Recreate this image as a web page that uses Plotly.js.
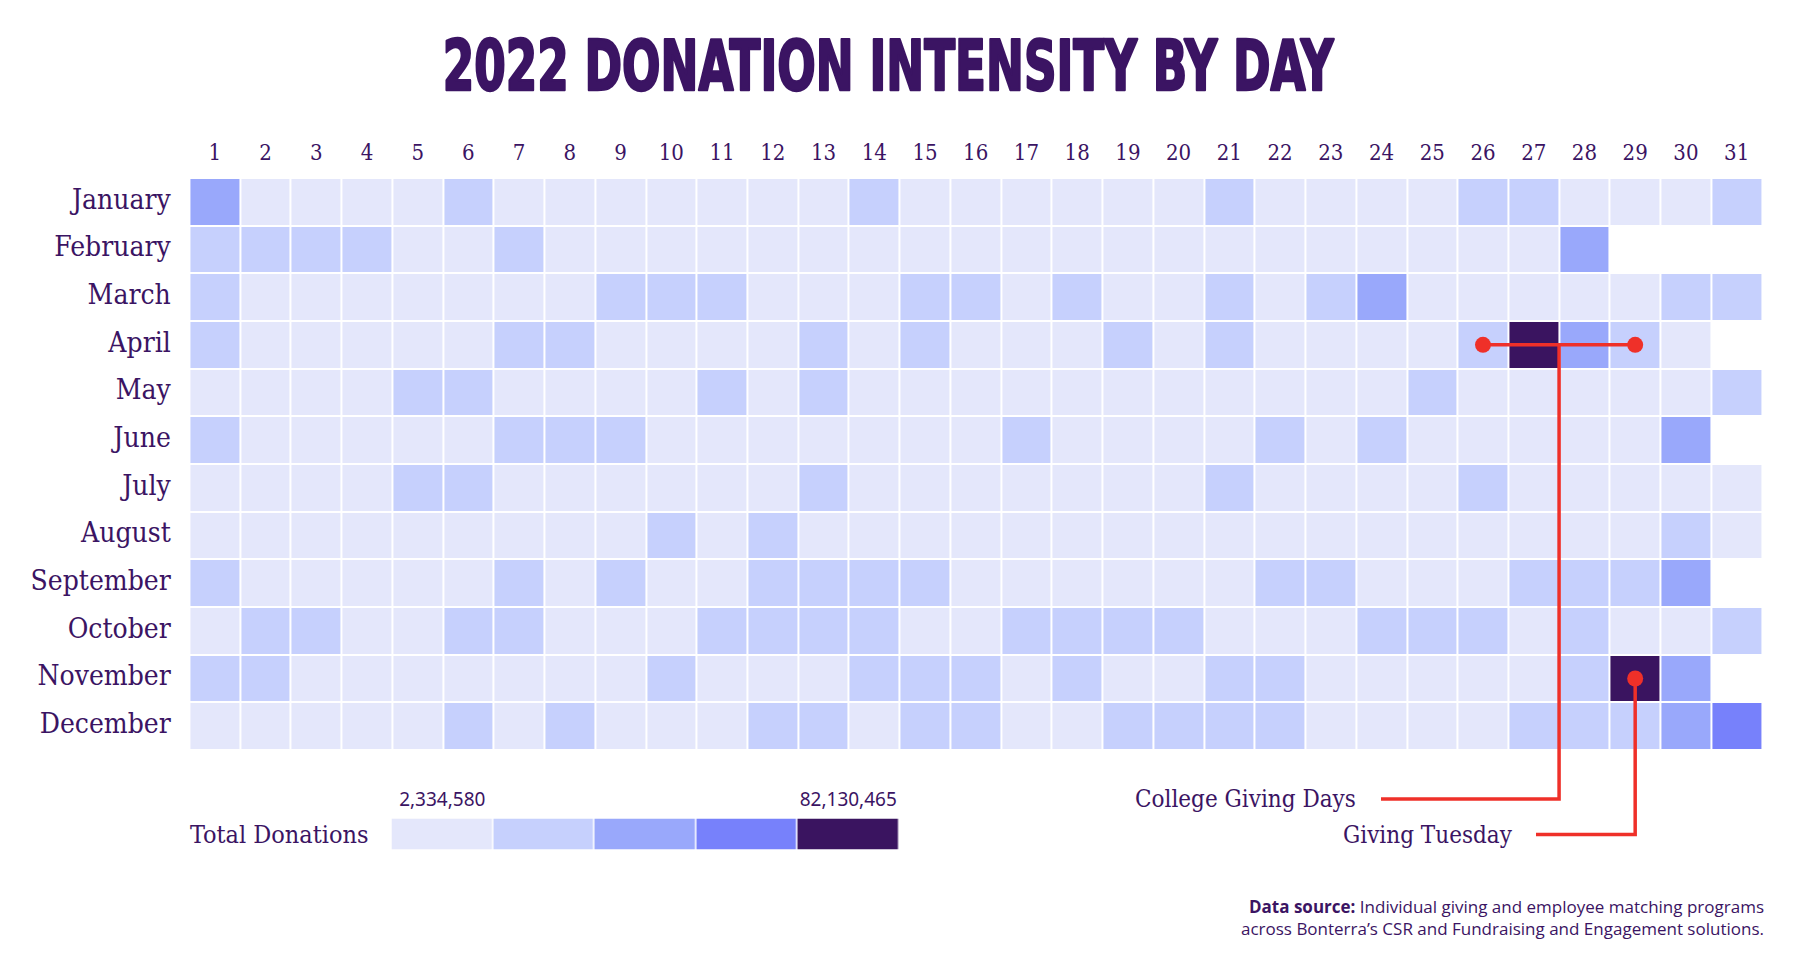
<!DOCTYPE html>
<html>
<head>
<meta charset="utf-8">
<script src="https://cdn.plot.ly/plotly-3.0.1.min.js"></script>
<style>
  html, body { margin: 0; padding: 0; background: #ffffff; }
  #chart { width: 1800px; height: 964px; }
</style>
</head>
<body>
<div id="chart"></div>
<script>
// ---------- data (intensity bin 0..4 per day, null = no such day) ----------
const months = ['January','February','March','April','May','June','July','August','September','October','November','December'];
const days = [1,2,3,4,5,6,7,8,9,10,11,12,13,14,15,16,17,18,19,20,21,22,23,24,25,26,27,28,29,30,31];

const jan = [2,0,0,0,0,1,0,0,0,0,0,0,0,1,0,0,0,0,0,0,1,0,0,0,0,1,1,0,0,0,1];
const feb = [1,1,1,1,0,0,1,0,0,0,0,0,0,0,0,0,0,0,0,0,0,0,0,0,0,0,0,2,null,null,null];
const mar = [1,0,0,0,0,0,0,0,1,1,1,0,0,0,1,1,0,1,0,0,1,0,1,2,0,0,0,0,0,1,1];
const apr = [1,0,0,0,0,0,1,1,0,0,0,0,1,0,1,0,0,0,1,0,1,0,0,0,0,1,4,2,1,0,null];
const may = [0,0,0,0,1,1,0,0,0,0,1,0,1,0,0,0,0,0,0,0,0,0,0,0,1,0,0,0,0,0,1];
const jun = [1,0,0,0,0,0,1,1,1,0,0,0,0,0,0,0,1,0,0,0,0,1,0,1,0,0,0,0,0,2,null];
const jul = [0,0,0,0,1,1,0,0,0,0,0,0,1,0,0,0,0,0,0,0,1,0,0,0,0,1,0,0,0,0,0];
const aug = [0,0,0,0,0,0,0,0,0,1,0,1,0,0,0,0,0,0,0,0,0,0,0,0,0,0,0,0,0,1,0];
const sep = [1,0,0,0,0,0,1,0,1,0,0,1,1,1,1,0,0,0,0,0,0,1,1,0,0,0,1,1,1,2,null];
const oct = [0,1,1,0,0,1,1,0,0,0,1,1,1,1,0,0,1,1,1,1,0,0,0,1,1,1,0,1,0,0,1];
const nov = [1,1,0,0,0,0,0,0,0,1,0,0,0,1,1,1,0,1,0,0,1,1,0,0,0,0,0,1,4,2,null];
const dec = [0,0,0,0,0,1,0,1,0,0,0,1,1,0,1,1,0,0,1,1,1,1,0,0,0,0,1,1,1,2,3];

const legendBins = [0,1,2,3,4];
const legendLabels = ['2,334,580','82,130,465'];

// callouts: [day, monthIndex]
const collegeDays = [26, 29];      // April span
const collegeMonth = 3;
const givingTuesday = [29, 10];    // Nov 29

// ---------- styling ----------
const ink = '#3b1463';
const red = '#ef3029';
const binColors = ['#e4e7fb','#c6d0fd','#99a8fb','#7781fb','#3a1460'];
const W = 1800, H = 964;
const gridL = 189.4, gridR = 1762, gridT = 178, gridB = 750;
const plotB = 850;                              // extended plot bottom (for callouts)
const rowH = (gridB - gridT) / months.length;
const extraRows = (plotB - gridB) / rowH;
const colW = (gridR - gridL) / days.length;
const px2x = p => 0.5 + (p - gridL) / colW;
const py2y = p => (p - gridT) / rowH - 0.5;

const serif = '"DejaVu Serif Condensed", "DejaVu Serif", serif';

const cs = [];
binColors.forEach((c, i) => {
  const a = Math.max(0, (i - 0.5) / 4), b = Math.min(1, (i + 0.5) / 4);
  cs.push([a, c]); cs.push([b, c]);
});

const zMain = [jan,feb,mar,apr,may,jun,jul,aug,sep,oct,nov,dec];

const heat = {
  type: 'heatmap', x: days, y: months.map((m, i) => i), z: zMain,
  colorscale: cs, zmin: 0, zmax: 4, showscale: false,
  xgap: 2, ygap: 2, hoverongaps: false,
  xaxis: 'x', yaxis: 'y',
  hovertemplate: '%{y} %{x}: bin %{z}<extra></extra>'
};

const legendHeat = {
  type: 'heatmap', x: legendBins, y: [0], z: [legendBins],
  colorscale: cs, zmin: 0, zmax: 4, showscale: false,
  xgap: 1.5, ygap: 0, xaxis: 'x2', yaxis: 'y2', hoverinfo: 'skip'
};

// callout geometry
const collegeLabelY = py2y(799);
const tuesdayLabelY = py2y(834.6);
const collegeLine = {
  type: 'scatter', mode: 'lines', xaxis: 'x', yaxis: 'y',
  x: [collegeDays[0], collegeDays[1], null, 27.5, 27.5, px2x(1381)],
  y: [collegeMonth, collegeMonth, null, collegeMonth, collegeLabelY, collegeLabelY],
  line: { color: red, width: 3.5 }, hoverinfo: 'skip', showlegend: false, cliponaxis: false
};
const tuesdayLine = {
  type: 'scatter', mode: 'lines', xaxis: 'x', yaxis: 'y',
  x: [givingTuesday[0], givingTuesday[0], px2x(1536)],
  y: [givingTuesday[1], tuesdayLabelY, tuesdayLabelY],
  line: { color: red, width: 3.5 }, hoverinfo: 'skip', showlegend: false, cliponaxis: false
};
const dots = {
  type: 'scatter', mode: 'markers', xaxis: 'x', yaxis: 'y',
  x: [collegeDays[0], collegeDays[1], givingTuesday[0]],
  y: [collegeMonth, collegeMonth, givingTuesday[1]],
  marker: { color: red, size: 16 }, hoverinfo: 'skip', showlegend: false, cliponaxis: false
};

const layout = {
  width: W, height: H,
  margin: { l: 0, r: 0, t: 0, b: 0 },
  paper_bgcolor: '#ffffff', plot_bgcolor: 'rgba(0,0,0,0)',
  showlegend: false,
  title: {
    text: '2022 DONATION INTENSITY BY DAY',
    x: 888 / W, xanchor: 'center', y: 1 - 66 / H, yanchor: 'middle',
    font: { family: '"DejaVu Sans Condensed", "DejaVu Sans", sans-serif', size: 70, weight: 700, color: ink }
  },
  xaxis: {
    domain: [gridL / W, gridR / W], range: [0.5, 31.5], side: 'top',
    tickmode: 'array', tickvals: days, ticktext: days.map(String),
    showgrid: false, zeroline: false, showline: false, fixedrange: true,
    ticks: 'outside', ticklen: 8, tickcolor: 'rgba(0,0,0,0)',
    tickfont: { family: serif, size: 22, color: ink }
  },
  yaxis: {
    domain: [1 - plotB / H, 1 - gridT / H], range: [11.5 + extraRows, -0.5],
    tickmode: 'array', tickvals: months.map((m, i) => i), ticktext: months,
    showgrid: false, zeroline: false, showline: false, fixedrange: true,
    ticks: 'outside', ticklen: 12, tickcolor: 'rgba(0,0,0,0)',
    ticklabelshift: 3,
    tickfont: { family: serif, size: 28, color: ink }
  },
  xaxis2: {
    domain: [391.5 / W, 899 / W], range: [-0.5, 4.5], anchor: 'y2', side: 'top',
    tickmode: 'array', tickvals: [0, 4], ticktext: legendLabels,
    showgrid: false, zeroline: false, showline: false, fixedrange: true,
    ticks: 'outside', ticklen: 4, tickcolor: 'rgba(0,0,0,0)',
    tickfont: { family: '"Noto Sans", sans-serif', size: 19, color: ink }
  },
  yaxis2: {
    domain: [1 - 849.5 / H, 1 - 818.5 / H], range: [-0.5, 0.5], anchor: 'x2',
    tickmode: 'array', tickvals: [0], ticktext: ['Total Donations'],
    showgrid: false, zeroline: false, showline: false, fixedrange: true,
    ticks: 'outside', ticklen: 17, tickcolor: 'rgba(0,0,0,0)',
    tickfont: { family: serif, size: 25, color: ink }
  },
  annotations: [
    { xref: 'x', yref: 'y', x: px2x(1358), y: collegeLabelY, xanchor: 'right', yanchor: 'middle',
      text: 'College Giving Days', showarrow: false, font: { family: serif, size: 24, color: ink } },
    { xref: 'x', yref: 'y', x: px2x(1515), y: tuesdayLabelY, xanchor: 'right', yanchor: 'middle',
      text: 'Giving Tuesday', showarrow: false, font: { family: serif, size: 24, color: ink } },
    { xref: 'paper', yref: 'paper', x: 1766 / W, y: 1 - 917 / H, xanchor: 'right', yanchor: 'middle', align: 'right',
      text: '<b>Data source:</b> Individual giving and employee matching programs<br>across Bonterra\u2019s CSR and Fundraising and Engagement solutions.',
      showarrow: false, font: { family: '"Open Sans", "Noto Sans", sans-serif', size: 17, color: ink } }
  ]
};

Plotly.newPlot('chart', [heat, legendHeat, collegeLine, tuesdayLine, dots], layout, { displayModeBar: false, staticPlot: true })
  .then(gd => {
    // condense + embolden the title to mimic the reference's heavy condensed display face
    const t = gd.querySelector('.gtitle');
    if (t) {
      const bb = t.getBBox();
      const cx = bb.x + bb.width / 2;
      const target = 892;
      const s = Math.min(1, target / bb.width);
      t.setAttribute('transform', `translate(${cx},0) scale(${s},1) translate(${-cx},0)`);
      t.style.stroke = ink;
      t.style.strokeWidth = '2.5px';
      t.style.strokeLinejoin = 'round';
    }
  });
</script>
</body>
</html>
